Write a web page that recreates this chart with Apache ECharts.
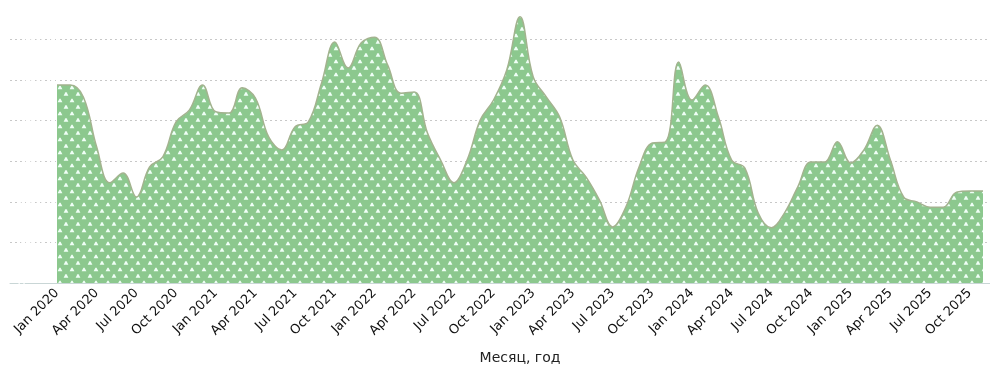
<!DOCTYPE html>
<html>
<head>
<meta charset="utf-8">
<script src="https://cdn.jsdelivr.net/npm/echarts@6/dist/echarts.min.js"></script>
<style>
html,body{margin:0;padding:0;background:#fff;}
#chart{width:990px;height:370px;}
</style>
</head>
<body>
<div id="chart"></div>
<script>
// Monthly categories Jan 2020 .. Nov 2025
const monthNames = ['Jan','Feb','Mar','Apr','May','Jun','Jul','Aug','Sep','Oct','Nov','Dec'];
const categories = [];
for (let y = 2020; y <= 2025; y++) {
  for (let m = 0; m < 12; m++) {
    if (y === 2025 && m > 10) break;
    categories.push(monthNames[m] + ' ' + y);
  }
}
// Series values
const values = [
  48800, 48800, 45800, 33500, 24700, 27100, 21200, 28600, 31100, 39700, 42600, 48800,
  42200, 41900, 48100, 45600, 36000, 32800, 38500, 39700, 49300, 59400, 53000, 59200,
  60600, 53700, 46800, 47100, 37000, 30300, 24700, 30300, 40200, 45100, 52500, 65600,
  50800, 45800, 40900, 30300, 26100, 20500, 13800, 18700, 28600, 34500, 34800, 54500,
  45100, 48800, 40900, 30300, 28300, 17300, 13600, 17300, 23700, 29800, 29800, 34800,
  29600, 32800, 38900, 30300, 21200, 20000, 18700, 18700, 22400, 22700, 22700
];
const yTicks = [0, 10000, 20000, 30000, 40000, 50000, 60000, 70000];
const axisName = 'Месяц, год';

// pattern tile: green with small white bumps
function makePattern() {
  const c = document.createElement('canvas');
  c.width = 12; c.height = 13;
  const g = c.getContext('2d');
  g.fillStyle = '#8cc88e';
  g.fillRect(0, 0, 12, 13);
  g.fillStyle = '#effff6';
  function bump(cx, cy) {
    g.beginPath();
    g.moveTo(cx - 2.4, cy + 1.7);
    g.lineTo(cx + 2.4, cy + 1.7);
    g.lineTo(cx + 0.7, cy - 1.5);
    g.quadraticCurveTo(cx, cy - 2.3, cx - 0.7, cy - 1.5);
    g.closePath();
    g.fill();
  }
  bump(6, 3);
  bump(0, 9.5);
  bump(12, 9.5);
  return c;
}

const chart = echarts.init(document.getElementById('chart'), null, {renderer: 'canvas'});
const yMax = yTicks[yTicks.length - 1];
const yInt = yTicks[1] - yTicks[0];
chart.setOption({
  animation: false,
  backgroundColor: '#fff',
  grid: [
    {left: 10, right: 0, top: -1, bottom: 87, containLabel: false, outerBoundsMode: 'none'},
    {left: 57, right: 7, top: -1, bottom: 87, containLabel: false, outerBoundsMode: 'none'}
  ],
  xAxis: [
    {
      gridIndex: 0, type: 'value', min: 0, max: 1,
      axisLine: {show: true, lineStyle: {color: '#c9d6d6', width: 1}},
      axisTick: {show: false}, axisLabel: {show: false}, splitLine: {show: false}
    },
    {
      gridIndex: 1, type: 'category', data: categories, boundaryGap: false,
      axisLine: {show: false}, axisTick: {show: false},
      axisLabel: {
        interval: 2, rotate: 45, color: '#111', fontSize: 13,
        fontFamily: 'DejaVu Sans', margin: 8
      },
      name: axisName, nameLocation: 'middle', nameGap: 68,
      nameTextStyle: {color: '#222', fontSize: 14, fontFamily: 'DejaVu Sans'}
    }
  ],
  yAxis: [
    {
      gridIndex: 0, type: 'value', min: 0, max: yMax, interval: yInt,
      axisLine: {show: false}, axisTick: {show: false},
      axisLabel: {inside: true, color: '#ffffff', fontSize: 13},
      splitLine: {show: true, lineStyle: {color: '#c8c8c8', type: [2, 3], width: 1}}
    },
    {
      gridIndex: 1, type: 'value', min: 0, max: yMax, interval: yInt,
      axisLine: {show: false}, axisTick: {show: false},
      axisLabel: {show: false}, splitLine: {show: false}
    }
  ],
  series: [{
    type: 'line',
    xAxisIndex: 1, yAxisIndex: 1,
    data: values,
    smooth: 0.4,
    symbol: 'none',
    lineStyle: {color: '#a3b38f', width: 1.5},
    areaStyle: {color: {image: makePattern(), repeat: 'repeat'}, opacity: 1}
  }]
});
</script>
</body>
</html>
